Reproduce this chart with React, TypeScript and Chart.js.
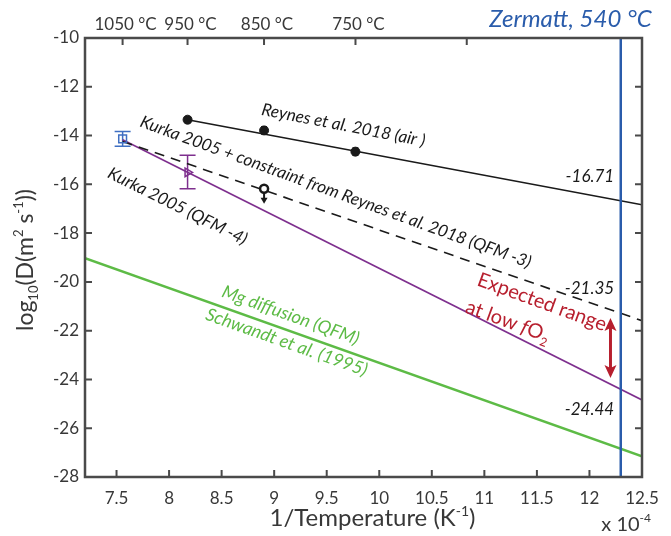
import { useEffect, useRef } from "react";
import { Chart, registerables } from "chart.js";

Chart.register(...registerables);

const FONT = "Lato, 'Open Sans', 'DejaVu Sans', sans-serif";

// ---- axes ----
const X_MIN = 7.2;
const X_MAX = 12.5;
const Y_MIN = -28;
const Y_MAX = -10;
const xTickValues = [7.5, 8, 8.5, 9, 9.5, 10, 10.5, 11, 11.5, 12, 12.5];
const yTickValues = [-28, -26, -24, -22, -20, -18, -16, -14, -12, -10];
const topTempsC = [1050, 950, 850, 750, 650];
const topTempLabels = ["1050 °C", "950 °C", "850 °C", "750 °C", ""];
const zermattTempC = 540;
const zermattLabel = "Zermatt, 540 °C";

// ---- Reynes et al. 2018 (air) ----
const reynesX = [8.176, 8.904, 9.773];
const reynesY = [-13.35, -13.79, -14.66];
const reynesErr = [0.12, 0.15, 0.15];
const reynesFitX = [8.176, 12.5];
const reynesFitY = [-13.35, -16.84];

// ---- Kurka 2005 + constraint (QFM -3) ----
const constraintX = [7.558, 12.5];
const constraintY = [-14.24, -21.59];

// ---- Kurka 2005 (QFM -4) ----
const kurkaX = [7.558, 12.5];
const kurkaY = [-14.17, -24.84];

// ---- Mg diffusion (QFM), Schwandt et al. 1995 ----
const mgX = [7.2, 12.5];
const mgY = [-19.03, -27.15];

// ---- Kurka data points ----
const kurkaSqX = [7.558];
const kurkaSqY = [-14.14];
const kurkaSqLo = [-14.44];
const kurkaSqHi = [-13.83];
const kurkaTriX = [8.176];
const kurkaTriY = [-15.51];
const kurkaTriLo = [-16.18];
const kurkaTriHi = [-14.81];

// ---- upper limit ----
const limitX = [8.904];
const limitY = [-16.18];
const limitArrowTo = [-16.8];

// ---- values at Zermatt ----
const zermattValueLabels = ["-16.71", "-21.35", "-24.44"];
const zermattValueY = [-15.64, -20.25, -25.21];

// ---- expected range ----
const rangeTop = -21.48;
const rangeBottom = -23.94;

// ---- colours ----
const AXIS = "#4a4a4a";
const TEXT = "#383838";
const BLACK = "#1a1a1a";
const BLUE = "#2a5cab";
const MBLUE = "#3f6fc2";
const PURPLE = "#7e2f8e";
const GREEN = "#5dbb46";
const RED = "#b71f2e";

const invT = (c: number) => 1e4 / (c + 273.15);

// annotation placement (data coords)
const ANN = {
  reynes: { x: 9.66, y: -13.56, a: 11 },
  constraint: { x: 9.586, y: -16.3, a: 20 },
  kurka: { x: 8.083, y: -16.88, a: 26.5 },
  mg: { x: 9.158, y: -21.35, a: 19.6 },
  schwandt: { x: 9.12, y: -22.46, a: 19.6 },
  expected: { x: 11.55, y: -20.81, a: 20 },
  low: { x: 11.225, y: -21.59, a: 20 },
  valueRight: 12.235,
  rangeX: 12.2,
};

type Part = { t: string; size: number; dy?: number; italic?: boolean };

const fontOf = (p: Part) => `${p.italic ? "italic " : ""}${p.size}px ${FONT}`;

function drawRich(
  ctx: CanvasRenderingContext2D,
  parts: Part[],
  x: number,
  y: number,
  align: "left" | "center" | "right",
  color: string
) {
  ctx.save();
  ctx.fillStyle = color;
  ctx.textAlign = "left";
  ctx.textBaseline = "alphabetic";
  const widths = parts.map((p) => {
    ctx.font = fontOf(p);
    return ctx.measureText(p.t).width;
  });
  const total = widths.reduce((a, b) => a + b, 0);
  let cx = align === "center" ? x - total / 2 : align === "right" ? x - total : x;
  parts.forEach((p, i) => {
    ctx.font = fontOf(p);
    ctx.fillText(p.t, cx, y + (p.dy || 0));
    cx += widths[i];
  });
  ctx.restore();
}

function rotText(
  ctx: CanvasRenderingContext2D,
  parts: Part[],
  cx: number,
  cy: number,
  deg: number,
  color: string
) {
  ctx.save();
  ctx.translate(cx, cy);
  ctx.rotate((deg * Math.PI) / 180);
  drawRich(ctx, parts, 0, parts[0].size * 0.35, "center", color);
  ctx.restore();
}

function errorBar(
  ctx: CanvasRenderingContext2D,
  x: number,
  y1: number,
  y2: number,
  half: number,
  color: string,
  lw: number
) {
  ctx.save();
  ctx.strokeStyle = color;
  ctx.lineWidth = lw;
  ctx.beginPath();
  ctx.moveTo(x, y1);
  ctx.lineTo(x, y2);
  ctx.moveTo(x - half, y1);
  ctx.lineTo(x + half, y1);
  ctx.moveTo(x - half, y2);
  ctx.lineTo(x + half, y2);
  ctx.stroke();
  ctx.restore();
}

const overlay = {
  id: "overlay",
  beforeDatasetsDraw(chart: any) {
    const ctx: CanvasRenderingContext2D = chart.ctx;
    const xs = chart.scales.x;
    const ys = chart.scales.y;
    reynesX.forEach((x, i) => {
      errorBar(
        ctx,
        xs.getPixelForValue(x),
        ys.getPixelForValue(reynesY[i] + reynesErr[i]),
        ys.getPixelForValue(reynesY[i] - reynesErr[i]),
        3,
        BLACK,
        1.5
      );
    });
    kurkaSqX.forEach((x, i) => {
      errorBar(ctx, xs.getPixelForValue(x), ys.getPixelForValue(kurkaSqHi[i]), ys.getPixelForValue(kurkaSqLo[i]), 8, MBLUE, 1.5);
    });
    kurkaTriX.forEach((x, i) => {
      errorBar(ctx, xs.getPixelForValue(x), ys.getPixelForValue(kurkaTriHi[i]), ys.getPixelForValue(kurkaTriLo[i]), 8, PURPLE, 1.5);
    });
  },
  afterDraw(chart: any) {
    const ctx: CanvasRenderingContext2D = chart.ctx;
    const xs = chart.scales.x;
    const ys = chart.scales.y;
    const a = chart.chartArea;
    const X = (v: number) => xs.getPixelForValue(v);
    const Y = (v: number) => ys.getPixelForValue(v);

    // upper limit arrow
    limitX.forEach((x, i) => {
      const px = X(x);
      const y0 = Y(limitY[i]) + 4;
      const y1 = Y(limitArrowTo[i]);
      ctx.save();
      ctx.strokeStyle = BLACK;
      ctx.fillStyle = BLACK;
      ctx.lineWidth = 2;
      ctx.beginPath();
      ctx.moveTo(px, y0);
      ctx.lineTo(px, y1 - 5);
      ctx.stroke();
      ctx.beginPath();
      ctx.moveTo(px - 3.5, y1 - 6);
      ctx.lineTo(px + 3.5, y1 - 6);
      ctx.lineTo(px, y1);
      ctx.closePath();
      ctx.fill();
      ctx.restore();
    });

    // expected range double arrow
    {
      const px = X(ANN.rangeX);
      const yt = Y(rangeTop);
      const yb = Y(rangeBottom);
      ctx.save();
      ctx.strokeStyle = RED;
      ctx.fillStyle = RED;
      ctx.lineWidth = 3;
      ctx.beginPath();
      ctx.moveTo(px, yt + 10);
      ctx.lineTo(px, yb - 10);
      ctx.stroke();
      ctx.beginPath();
      ctx.moveTo(px, yt);
      ctx.lineTo(px + 6, yt + 13);
      ctx.lineTo(px, yt + 10);
      ctx.lineTo(px - 6, yt + 13);
      ctx.closePath();
      ctx.fill();
      ctx.beginPath();
      ctx.moveTo(px, yb);
      ctx.lineTo(px + 6, yb - 13);
      ctx.lineTo(px, yb - 10);
      ctx.lineTo(px - 6, yb - 13);
      ctx.closePath();
      ctx.fill();
      ctx.restore();
    }

    // frame
    ctx.save();
    ctx.strokeStyle = AXIS;
    ctx.lineWidth = 2.5;
    ctx.strokeRect(a.left, a.top, a.right - a.left, a.bottom - a.top);
    ctx.lineWidth = 2;
    ctx.beginPath();
    const TL = 7;
    xTickValues.forEach((v) => {
      const px = X(v);
      ctx.moveTo(px, a.bottom);
      ctx.lineTo(px, a.bottom - TL);
    });
    yTickValues.forEach((v) => {
      const py = Y(v);
      ctx.moveTo(a.left, py);
      ctx.lineTo(a.left + TL, py);
      ctx.moveTo(a.right, py);
      ctx.lineTo(a.right - TL, py);
    });
    topTempsC.forEach((c) => {
      const px = X(invT(c));
      ctx.moveTo(px, a.top);
      ctx.lineTo(px, a.top + TL);
    });
    ctx.stroke();
    ctx.restore();

    // top temperature labels
    topTempsC.forEach((c, i) => {
      if (!topTempLabels[i]) return;
      drawRich(ctx, [{ t: topTempLabels[i], size: 17 }], X(invT(c)) + 3, 30, "center", TEXT);
    });
    // Zermatt label
    drawRich(ctx, [{ t: zermattLabel, size: 24, italic: true }], X(invT(zermattTempC)) + 31, 27, "right", BLUE);

    // axis titles
    const midX = (a.left + a.right) / 2;
    drawRich(
      ctx,
      [
        { t: "1/Temperature (K", size: 24 },
        { t: "-1", size: 14, dy: -10 },
        { t: ")", size: 24 },
      ],
      midX + 9,
      526,
      "center",
      TEXT
    );
    drawRich(
      ctx,
      [
        { t: "x 10", size: 20 },
        { t: "-4", size: 12, dy: -9 },
      ],
      a.right + 9,
      530.5,
      "right",
      TEXT
    );
    ctx.save();
    ctx.translate(33, 260);
    ctx.rotate(-Math.PI / 2);
    drawRich(
      ctx,
      [
        { t: "log", size: 23 },
        { t: "10", size: 13, dy: 5 },
        { t: "(D(m", size: 23 },
        { t: "2", size: 13, dy: -10 },
        { t: " s", size: 23 },
        { t: "-1", size: 13, dy: -10 },
        { t: "))", size: 23 },
      ],
      0,
      0,
      "center",
      TEXT
    );
    ctx.restore();

    // values at Zermatt
    zermattValueLabels.forEach((s, i) => {
      drawRich(ctx, [{ t: s, size: 17, italic: true }], X(ANN.valueRight), Y(zermattValueY[i]) + 6, "right", BLACK);
    });

    // rotated annotations
    rotText(ctx, [{ t: "Reynes et al. 2018 (air )", size: 17, italic: true }], X(ANN.reynes.x), Y(ANN.reynes.y), ANN.reynes.a, BLACK);
    rotText(
      ctx,
      [{ t: "Kurka 2005 + constraint from Reynes et al. 2018 (QFM -3)", size: 17, italic: true }],
      X(ANN.constraint.x),
      Y(ANN.constraint.y),
      ANN.constraint.a,
      BLACK
    );
    rotText(ctx, [{ t: "Kurka 2005 (QFM -4)", size: 17, italic: true }], X(ANN.kurka.x), Y(ANN.kurka.y), ANN.kurka.a, BLACK);
    rotText(ctx, [{ t: "Mg diffusion (QFM)", size: 18, italic: true }], X(ANN.mg.x), Y(ANN.mg.y), ANN.mg.a, GREEN);
    rotText(ctx, [{ t: "Schwandt et al. (1995)", size: 18, italic: true }], X(ANN.schwandt.x), Y(ANN.schwandt.y), ANN.schwandt.a, GREEN);
    rotText(ctx, [{ t: "Expected range", size: 20 }], X(ANN.expected.x), Y(ANN.expected.y), ANN.expected.a, RED);
    rotText(
      ctx,
      [
        { t: "at low ", size: 20 },
        { t: "f", size: 20, italic: true },
        { t: "O", size: 20 },
        { t: "2", size: 12, dy: 5 },
      ],
      X(ANN.low.x),
      Y(ANN.low.y),
      ANN.low.a,
      RED
    );
  },
};

const pts = (xs: number[], ys: number[]) => xs.map((x, i) => ({ x, y: ys[i] }));

export default function App() {
  const ref = useRef<HTMLCanvasElement | null>(null);
  useEffect(() => {
    if (!ref.current) return;
    const zx = invT(zermattTempC);
    const chart = new Chart(ref.current, {
      type: "scatter",
      data: {
        datasets: [
          {
            label: "Zermatt",
            data: [
              { x: zx, y: Y_MIN },
              { x: zx, y: Y_MAX },
            ],
            showLine: true,
            borderColor: BLUE,
            borderWidth: 2.5,
            pointRadius: 0,
            order: 0,
          },
          {
            label: "Reynes points",
            data: pts(reynesX, reynesY),
            pointRadius: 4.5,
            backgroundColor: BLACK,
            borderColor: BLACK,
            borderWidth: 1,
            order: 1,
          },
          {
            label: "Kurka QFM-3 point",
            data: pts(kurkaSqX, kurkaSqY),
            pointStyle: "rect",
            pointRadius: 5.5,
            backgroundColor: "rgba(0,0,0,0)",
            borderColor: MBLUE,
            borderWidth: 1.5,
            order: 1,
          },
          {
            label: "Kurka QFM-4 point",
            data: pts(kurkaTriX, kurkaTriY),
            pointStyle: "triangle",
            pointRotation: 90,
            pointRadius: 5,
            backgroundColor: "rgba(0,0,0,0)",
            borderColor: PURPLE,
            borderWidth: 1.5,
            order: 1,
          },
          {
            label: "Upper limit",
            data: pts(limitX, limitY),
            pointRadius: 4,
            backgroundColor: "#ffffff",
            borderColor: BLACK,
            borderWidth: 2.5,
            order: 1,
          },
          {
            label: "Reynes fit",
            data: pts(reynesFitX, reynesFitY),
            showLine: true,
            borderColor: BLACK,
            borderWidth: 1.6,
            pointRadius: 0,
            order: 2,
          },
          {
            label: "Kurka + constraint",
            data: pts(constraintX, constraintY),
            showLine: true,
            borderColor: BLACK,
            borderWidth: 1.6,
            borderDash: [10, 7],
            pointRadius: 0,
            order: 3,
          },
          {
            label: "Kurka QFM-4",
            data: pts(kurkaX, kurkaY),
            showLine: true,
            borderColor: PURPLE,
            borderWidth: 1.6,
            pointRadius: 0,
            order: 4,
          },
          {
            label: "Mg diffusion",
            data: pts(mgX, mgY),
            showLine: true,
            borderColor: GREEN,
            borderWidth: 2.6,
            pointRadius: 0,
            order: 5,
          },
        ],
      },
      options: {
        responsive: false,
        animation: false,
        events: [],
        layout: { padding: { top: 38, right: 29, left: 0, bottom: 0 } },
        plugins: { legend: { display: false }, tooltip: { enabled: false } },
        scales: {
          x: {
            type: "linear",
            min: X_MIN,
            max: X_MAX,
            afterBuildTicks: (s: any) => {
              s.ticks = xTickValues.map((v) => ({ value: v }));
            },
            afterFit: (s: any) => {
              s.height = 59;
            },
            grid: { display: false, drawTicks: false },
            border: { display: false },
            ticks: {
              callback: (v: any) => String(v),
              font: { family: FONT, size: 17 },
              color: TEXT,
              padding: 11,
              maxRotation: 0,
              autoSkip: false,
            },
          },
          y: {
            type: "linear",
            min: Y_MIN,
            max: Y_MAX,
            afterBuildTicks: (s: any) => {
              s.ticks = yTickValues.map((v) => ({ value: v }));
            },
            afterFit: (s: any) => {
              s.width = 85;
            },
            grid: { display: false, drawTicks: false },
            border: { display: false },
            ticks: {
              callback: (v: any) => String(v),
              font: { family: FONT, size: 17 },
              color: TEXT,
              padding: 6,
              autoSkip: false,
            },
          },
        },
      },
      plugins: [overlay],
    } as any);
    return () => chart.destroy();
  }, []);
  return (
    <div style={{ position: "absolute", left: 0, top: 0, width: 671, height: 536, background: "#fff" }}>
      <canvas ref={ref} width={671} height={536} style={{ display: "block", width: 671, height: 536 }} />
    </div>
  );
}
